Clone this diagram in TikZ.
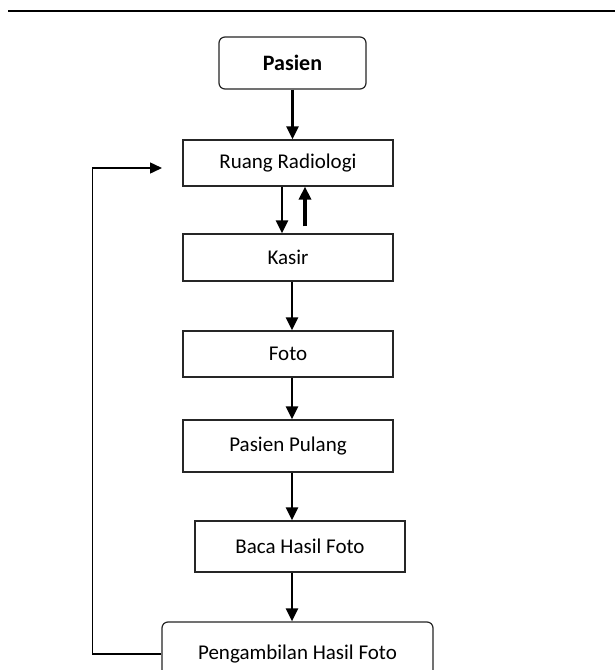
\documentclass[tikz,border=0pt]{standalone}
\usepackage{fontspec}
\setmainfont{Carlito}
\usetikzlibrary{arrows.meta}
\begin{document}
\begin{tikzpicture}[x=1pt,y=-1pt,
  box/.style={draw=black!85, line width=1.2pt, minimum width=210pt, minimum height=46pt,
    inner sep=0pt, font=\fontsize{21}{24}\selectfont},
  rbox/.style={box, rounded corners=6pt},
  arr/.style={line width=2.4pt, -{Triangle[length=13pt,width=12pt]}},
  fbl/.style={line width=1.5pt, -{Triangle[length=12pt,width=11pt]}}]
\clip (0,0) rectangle (615,670);
\fill[white] (0,0) rectangle (615,670);
\draw[line width=1.6pt] (8,11) -- (615,11);
% nodes
\node[rbox, minimum width=147pt, minimum height=52pt, font=\fontsize{22}{24}\selectfont\bfseries] (pasen) at (292.5,63) {Pasien};
\node[box] (ruang) at (288,163) {Ruang Radiologi};
\node[box, minimum height=47pt] (kasir) at (288,257.5) {Kasir};
\node[box] (foto) at (288,354) {Foto};
\node[box, minimum height=52pt] (pulang) at (288,446) {Pasien Pulang};
\node[box, minimum height=51pt] (baca) at (300,546.5) {Baca Hasil Foto};
\node[rbox, minimum width=271pt, minimum height=64pt, text depth=0pt] (peng) at (297.5,654) {\raisebox{3pt}{Pengambilan Hasil Foto}};
\coordinate (ax) at (292,0);
\coordinate (fbtip) at (162,168);
% connectors
\draw[arr] (pasen.south) -- (pasen.south |- ruang.north);
\draw[arr] ([xshift=-6pt]ruang.south) -- ([xshift=-6pt]kasir.north);
\draw[arr, line width=3.4pt] ([xshift=17pt,yshift=7pt]kasir.north) -- ([xshift=17pt]ruang.south);
\draw[arr] (kasir.south -| ax) -- (foto.north -| ax);
\draw[arr] (foto.south -| ax) -- (pulang.north -| ax);
\draw[arr] (pulang.south -| ax) -- (baca.north -| ax);
\draw[arr] (baca.south -| ax) -- (peng.north -| ax);
\draw[fbl] (peng.west) -- ++(-69,0) |- (fbtip);
\end{tikzpicture}
\end{document}
